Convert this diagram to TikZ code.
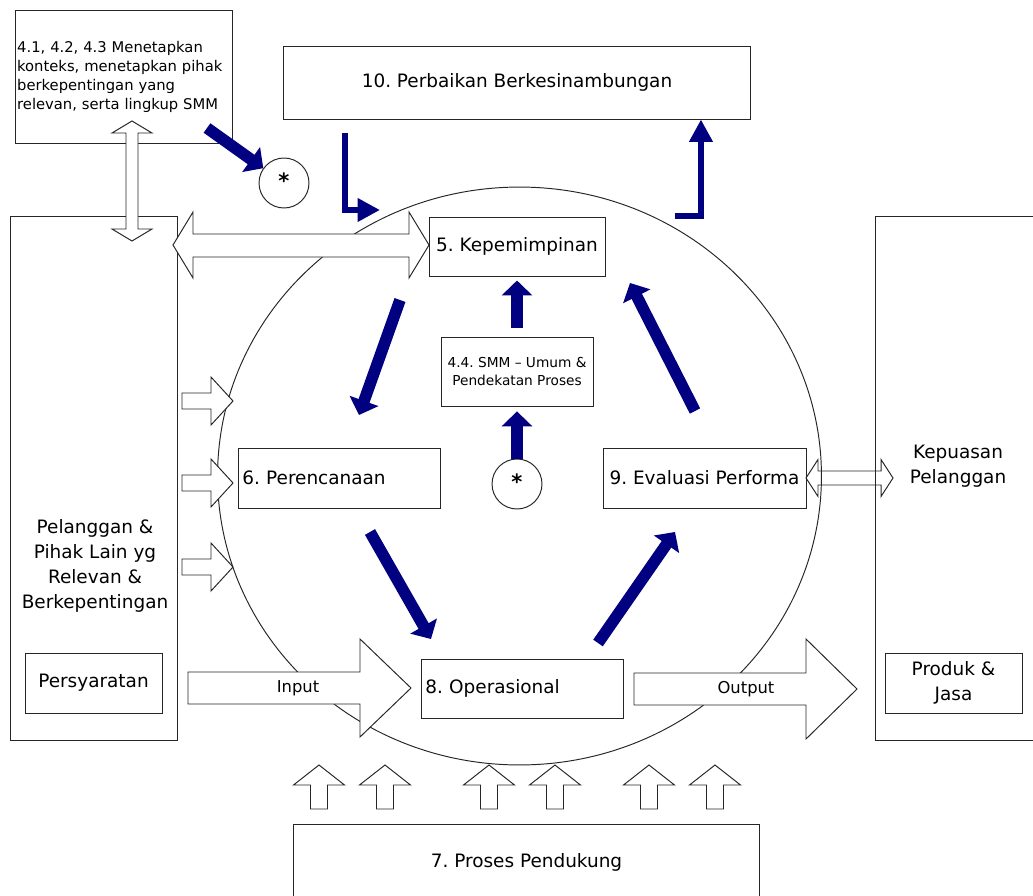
\documentclass[tikz,border=0pt]{standalone}
\usepackage{fontspec}
\setmainfont{DejaVu Sans}
\usetikzlibrary{arrows.meta}
\definecolor{cyclenavy}{RGB}{0,0,128}
\frenchspacing

\begin{document}
\begin{tikzpicture}[x=0.02cm, y=-0.02cm,
    box/.style={draw=black!85, fill=white, line width=0.55pt},
    lbl/.style={font=\fontsize{10.5}{14.2}\selectfont},
    hollow/.style={draw=black!85, fill=white, line width=0.55pt, line join=miter},
    flow/.style={draw=cyclenavy, line width=6.6pt, -{Triangle[width=17pt, length=8.5pt]}},
    turn/.style={draw=cyclenavy, line width=3.8pt, -{Triangle[width=12.7pt, length=12.7pt]}},
    star/.style={circle, draw=black!85, fill=white, line width=0.55pt, minimum size=1cm, inner sep=0pt, text depth=3pt, font=\bfseries\fontsize{12}{12}\selectfont}]
  \useasboundingbox (0,0) rectangle (1033,895);
  \draw[line width=0.55pt, black!85] (519.5,476) ellipse [x radius=6.04cm, y radius=5.78cm];

  \node[box, lbl, minimum width=9.36cm, minimum height=1.46cm] (improve) at (517,82.5) {10. Perbaikan Berkesinambungan};
  \node[box, align=left, text width=121.6pt, inner xsep=1pt, minimum height=2.66cm, font=\fontsize{8.4}{10.8}\selectfont] (context) at (124,76.5)
    {4.1, 4.2, 4.3 Menetapkan\\ konteks, menetapkan pihak\\ berkepentingan yang\\ relevan, serta lingkup SMM};
  \node[box, minimum width=3.34cm, minimum height=10.5cm] (customer) at (93.5,478.5) {};
  \node[lbl, align=center] (customertext) at (95,566) {Pelanggan \&\\ Pihak Lain yg\\ Relevan \&\\ Berkepentingan};
  \node[box, lbl, minimum width=2.74cm, minimum height=1.2cm] (requirement) at (93.5,683) {Persyaratan};
  \node[box, minimum width=3.4cm, minimum height=10.5cm] (satisfaction) at (960,478.5) {};
  \node[lbl, align=center] (satisfactiontext) at (958,466) {Kepuasan\\ Pelanggan};
  \node[box, lbl, align=center, minimum width=2.74cm, minimum height=1.2cm] (product) at (953.5,683) {Produk \&\\ Jasa};
  \node[box, lbl, minimum width=3.52cm, minimum height=1.18cm] (leadership) at (517,246.5) {5. Kepemimpinan};
  \node[box, align=center, minimum width=3.04cm, minimum height=1.38cm, font=\fontsize{7.8}{9.8}\selectfont] (process) at (517,371.5) {4.4. SMM – Umum \&\\ Pendekatan Proses};
  \node[box, lbl, align=left, text width=110.5pt, inner xsep=2.3pt, minimum height=1.2cm] (planning) at (339.5,478) {6. Perencanaan};
  \node[box, lbl, inner xsep=2pt, minimum width=4.06cm, minimum height=1.2cm] (evaluation) at (704.5,478) {9. Evaluasi Performa};
  \node[box, lbl, align=left, text width=110.5pt, inner xsep=2.3pt, minimum height=1.18cm] (operation) at (522.5,688.5) {8. Operasional};
  \node[box, lbl, minimum width=9.34cm, minimum height=1.52cm] (support) at (526.5,862) {7. Proses Pendukung};
  \node[star] (star1) at (284,183) {*};
  \node[star] (star2) at (517,484) {*};

  % hollow block arrows
  \filldraw[hollow] (132,121) -- (152,133) -- (138,133) -- (138,229) -- (152,229) -- (132,241) -- (112,229) -- (126,229) -- (126,133) -- (112,133) -- cycle;
  \filldraw[hollow] (173,245) -- (193,212) -- (193,234) -- (409,234) -- (409,212) -- (429,245) -- (409,278) -- (409,257) -- (193,257) -- (193,278) -- cycle;
  \foreach \y in {401,483,567}
    \filldraw[hollow] (233,\y) -- (211,\y-24) -- (211,\y-8) -- (182,\y-8) -- (182,\y+8) -- (211,\y+8) -- (211,\y+24) -- cycle;
  \foreach \x in {319,385,489,555,649,715}
    \filldraw[hollow] (\x,765) -- (\x+25.5,785) -- (\x+8.5,785) -- (\x+8.5,809) -- (\x-8.5,809) -- (\x-8.5,785) -- (\x-25.5,785) -- cycle;
  \draw[hollow, fill=none] (806,478) -- (818,459.5) -- (818,471) -- (881,471) -- (881,459.5) -- (893,478) -- (881,496.5) -- (881,485) -- (818,485) -- (818,496.5) -- cycle;
  \filldraw[hollow] (188,672) -- (360,672) -- (360,639) -- (411,688) -- (360,737) -- (360,704) -- (188,704) -- cycle;
  \node[font=\fontsize{9.3}{11}\selectfont] (input) at (298,688) {Input};
  \filldraw[hollow] (634,673) -- (806,673) -- (806,639) -- (857,689) -- (806,739) -- (806,705) -- (634,705) -- cycle;
  \node[font=\fontsize{9.3}{11}\selectfont] (output) at (746,689) {Output};

  \coordinate (contextout) at (207,128);
  \coordinate (improveout) at (345,133);
  \coordinate (cyclein) at (380,210);
  \coordinate (cycleout) at (675,216);
  \coordinate (leadout) at (400,300);
  \coordinate (planin) at (359,415);
  \coordinate (planout) at (370,532);
  \coordinate (operin) at (431,639);
  \coordinate (operout) at (598,643);
  \coordinate (evalin) at (675,532);
  \coordinate (evalout) at (695,411);
  \coordinate (leadin) at (630,283);

  \draw[flow] (contextout) -- (star1);
  \draw[turn] (improveout) |- (cyclein);
  \draw[turn] (cycleout) -| ([xshift=3.68cm]improve.south);
  \draw[flow] (leadout) -- (planin);
  \draw[flow] (planout) -- (operin);
  \draw[flow] (operout) -- (evalin);
  \draw[flow] (evalout) -- (leadin);
  \draw[flow, shorten >=2.8pt] (star2) -- (process);
  \draw[flow, shorten <=5pt, shorten >=2.3pt] (process) -- (leadership);
\end{tikzpicture}
\end{document}
